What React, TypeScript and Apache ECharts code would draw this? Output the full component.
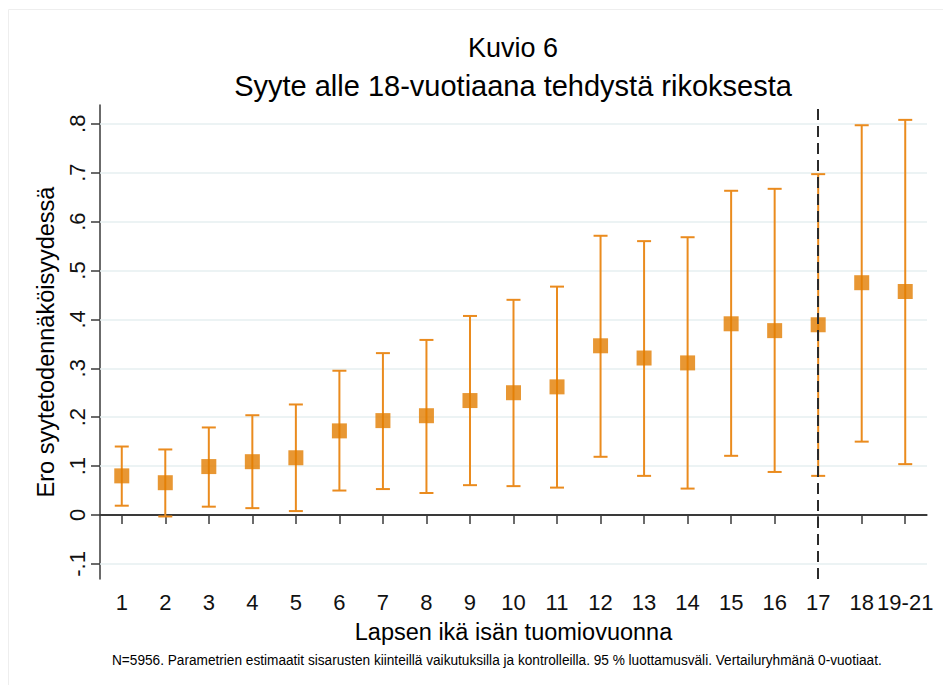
import React, { useEffect, useRef } from "react";
import * as echarts from "echarts";

const categories = ["1", "2", "3", "4", "5", "6", "7", "8", "9", "10", "11", "12", "13", "14", "15", "16", "17", "18", "19-21"];
const estimates = [0.080, 0.066, 0.099, 0.109, 0.117, 0.172, 0.193, 0.203, 0.234, 0.250, 0.262, 0.346, 0.321, 0.311, 0.391, 0.377, 0.389, 0.475, 0.457];
const upperCI = [0.140, 0.134, 0.179, 0.204, 0.226, 0.295, 0.331, 0.358, 0.407, 0.440, 0.467, 0.571, 0.560, 0.568, 0.663, 0.667, 0.697, 0.797, 0.808];
const lowerCI = [0.019, -0.003, 0.017, 0.014, 0.008, 0.050, 0.053, 0.045, 0.061, 0.059, 0.056, 0.119, 0.080, 0.054, 0.121, 0.088, 0.080, 0.150, 0.104];
const yTicks = [-0.1, 0, 0.1, 0.2, 0.3, 0.4, 0.5, 0.6, 0.7, 0.8];
const yTickLabels = ["-.1", "0", ".1", ".2", ".3", ".4", ".5", ".6", ".7", ".8"];
const referenceCategory = "17";

const TITLE = "Kuvio 6";
const SUBTITLE = "Syyte alle 18-vuotiaana tehdystä rikoksesta";
const X_TITLE = "Lapsen ikä isän tuomiovuonna";
const Y_TITLE = "Ero syytetodennäköisyydessä";
const NOTE = "N=5956. Parametrien estimaatit sisarusten kiinteillä vaikutuksilla ja kontrolleilla. 95 % luottamusväli. Vertailuryhmänä 0-vuotiaat.";

const FONT = "'Liberation Sans', Arial, sans-serif";
const BAR_COLOR = "#EA8B1E";
const MARK_COLOR = "#E27D00";
const AXIS_COLOR = "#3a3a3a";
const GRID_COLOR = "#E6EFF1";

export default function App() {
  const ref = useRef<HTMLDivElement>(null);

  useEffect(() => {
    if (!ref.current) return;
    const chart = echarts.init(ref.current, null, { renderer: "svg" });

    const labelFor = (v: number) => {
      let best = 0;
      yTicks.forEach((t, i) => {
        if (Math.abs(t - v) < Math.abs(yTicks[best] - v)) best = i;
      });
      return yTickLabels[best];
    };

    const option: any = {
      animation: false,
      backgroundColor: "#ffffff",
      textStyle: { fontFamily: FONT },
      grid: { left: 100, right: 16, top: 105, bottom: 106, containLabel: false },
      graphic: [
        {
          type: "rect",
          shape: { x: 8.5, y: 9.5, width: 960, height: 700 },
          style: { fill: "none", stroke: "#eeeeee", lineWidth: 1 },
          silent: true,
          z: -10,
        },
        {
          type: "text",
          x: 513,
          y: 48,
          style: { text: TITLE, fill: "#000", font: `27px ${FONT}`, textAlign: "center", textVerticalAlign: "middle" },
        },
        {
          type: "text",
          x: 513,
          y: 86,
          style: { text: SUBTITLE, fill: "#000", font: `29px ${FONT}`, textAlign: "center", textVerticalAlign: "middle" },
        },
        {
          type: "text",
          x: 112,
          y: 660,
          scaleX: 0.91,
          style: { text: NOTE, fill: "#000", font: `15px ${FONT}`, textAlign: "left", textVerticalAlign: "middle" },
        },
      ],
      xAxis: {
        type: "category",
        data: categories,
        boundaryGap: true,
        name: X_TITLE,
        nameLocation: "middle",
        nameGap: 41,
        nameTextStyle: { fontSize: 23.5, color: "#000", fontFamily: FONT },
        axisLine: { show: true, lineStyle: { color: AXIS_COLOR, width: 1.5 } },
        axisTick: { show: true, alignWithLabel: true, length: 9, lineStyle: { color: AXIS_COLOR, width: 1.5 } },
        axisLabel: { interval: 0, fontSize: 22, color: "#111", margin: 12, fontFamily: FONT },
        splitLine: { show: false },
      },
      yAxis: {
        type: "value",
        min: -0.1309,
        max: 0.8384,
        name: Y_TITLE,
        nameLocation: "middle",
        nameGap: 37,
        nameTextStyle: { fontSize: 23.5, color: "#000", fontFamily: FONT },
        axisLine: { show: true, lineStyle: { color: AXIS_COLOR, width: 1.5 } },
        axisTick: { show: true, length: 9, customValues: yTicks, lineStyle: { color: AXIS_COLOR, width: 1.5 } },
        axisLabel: {
          customValues: yTicks,
          rotate: 90,
          fontSize: 22,
          color: "#111",
          margin: 12,
          fontFamily: FONT,
          formatter: (v: number) => labelFor(v),
        },
        splitLine: { show: false },
      },
      series: [
        {
          type: "custom",
          name: "CI",
          z: 3,
          data: categories.map((c, i) => [i, lowerCI[i], upperCI[i]]),
          encode: { x: 0, y: [1, 2] },
          renderItem: (params: any, api: any) => {
            const x = api.value(0);
            const pLo = api.coord([x, api.value(1)]);
            const pHi = api.coord([x, api.value(2)]);
            const hw = 7;
            const style = { stroke: BAR_COLOR, lineWidth: 2, fill: "none" };
            return {
              type: "group",
              children: [
                { type: "line", shape: { x1: pHi[0], y1: pHi[1], x2: pLo[0], y2: pLo[1] }, style },
                { type: "line", shape: { x1: pHi[0] - hw, y1: pHi[1], x2: pHi[0] + hw, y2: pHi[1] }, style },
                { type: "line", shape: { x1: pLo[0] - hw, y1: pLo[1], x2: pLo[0] + hw, y2: pLo[1] }, style },
              ],
            };
          },
          markLine: {
            silent: true,
            symbol: "none",
            z: 1,
            label: { show: false },
            emphasis: { disabled: true },
            data: yTicks.map((t) => ({
              yAxis: t,
              lineStyle: t === 0
                ? { color: AXIS_COLOR, width: 2, type: "solid" }
                : { color: GRID_COLOR, width: 1.5, type: "solid" },
            })),
          },
        },
        {
          type: "scatter",
          name: "Estimate",
          z: 4,
          symbol: "rect",
          symbolSize: 15,
          itemStyle: { color: MARK_COLOR },
          data: estimates,
          markLine: {
            silent: true,
            symbol: "none",
            z: 6,
            label: { show: false },
            emphasis: { disabled: true },
            lineStyle: { color: "#2b2b2b", width: 2, type: [11, 6] },
            data: [{ xAxis: referenceCategory }],
          },
        },
      ],
    };

    chart.setOption(option);
    return () => chart.dispose();
  }, []);

  return (
    <div
      ref={ref}
      style={{ position: "fixed", left: 0, top: 0, width: 943, height: 685, background: "#fff" }}
    />
  );
}
